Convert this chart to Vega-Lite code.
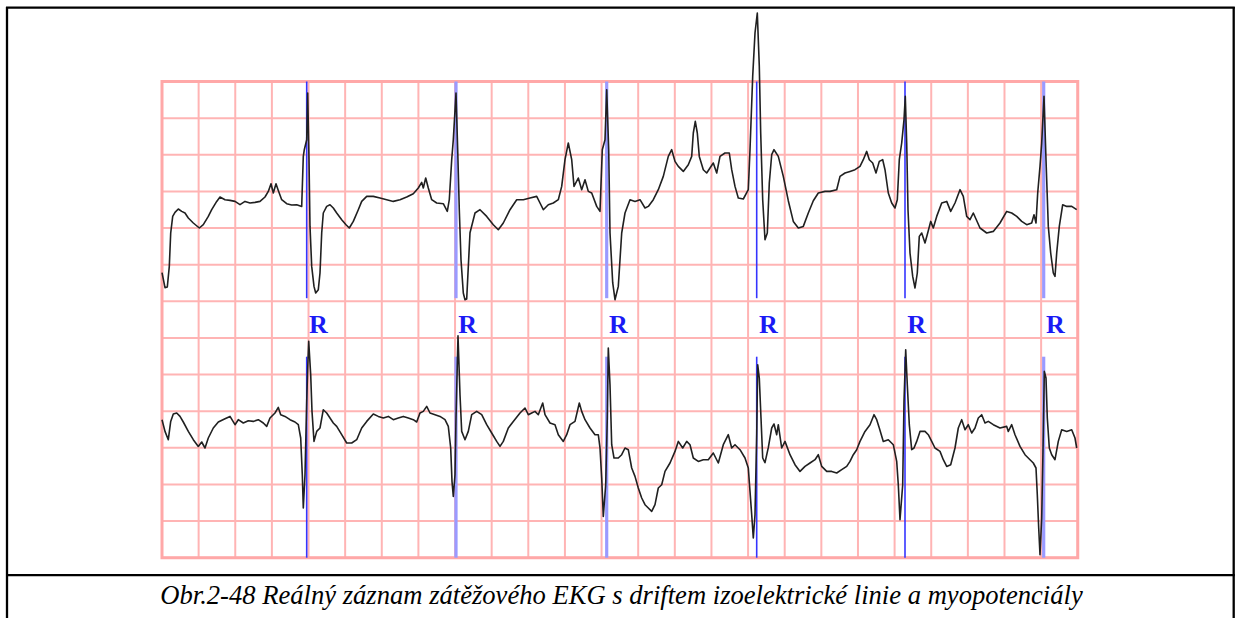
{
  "$schema": "https://vega.github.io/schema/vega-lite/v6.json",
  "width": 1235,
  "height": 618,
  "autosize": "none",
  "padding": 0,
  "background": "white",
  "config": {"view": {"stroke": null}},
  "datasets": {
    "vgrid": [{"n":0},{"n":36.63},{"n":73.26},{"n":109.89},{"n":146.52},{"n":183.15},{"n":219.78},{"n":256.41},{"n":293.04},{"n":329.67},{"n":366.3},{"n":402.93},{"n":439.56},{"n":476.19},{"n":512.82},{"n":549.45},{"n":586.08},{"n":622.71},{"n":659.34},{"n":695.97},{"n":732.6},{"n":769.23},{"n":805.86},{"n":842.49},{"n":879.12},{"n":915.75}],
    "hgrid": [{"a":0},{"a":36.63},{"a":73.26},{"a":109.89},{"a":146.52},{"a":183.15},{"a":219.78},{"a":256.41},{"a":293.04},{"a":329.67},{"a":366.3},{"a":402.93},{"a":439.56},{"a":476.19}],
    "beats": [{"beat":1,"n":144.7},{"beat":2,"n":294},{"beat":3,"n":444.7},{"beat":4,"n":594.7},{"beat":5,"n":743},{"beat":6,"n":881.7}],
    "top": [
      {"n":0,"a":285},{"n":3,"a":270},{"n":5.3,"a":270.7},{"n":7.3,"a":291.3},{"n":8.7,"a":324.7},{"n":10.7,"a":341.3},{"n":13,"a":345.3},{"n":16.3,"a":348.7},{"n":19.7,"a":346.3},{"n":23,"a":344.7},{"n":26.3,"a":339.7},{"n":31.3,"a":334.7},{"n":37.3,"a":329.7},{"n":41.3,"a":333},{"n":46.3,"a":341.3},{"n":49.7,"a":348},{"n":54.7,"a":356.3},{"n":58,"a":360.7},{"n":63,"a":358},{"n":68,"a":357.3},{"n":73,"a":356.3},{"n":78,"a":353},{"n":83,"a":356.3},{"n":88,"a":354.7},{"n":93,"a":355.3},{"n":98,"a":356.3},{"n":103,"a":360.7},{"n":106.3,"a":366.3},{"n":109,"a":374},{"n":111.3,"a":364.7},{"n":114,"a":374},{"n":116.3,"a":367.3},{"n":119.7,"a":358},{"n":124.7,"a":354},{"n":129.7,"a":352.7},{"n":134.7,"a":353},{"n":139.7,"a":351.3},{"n":141.3,"a":401.3},{"n":142.3,"a":408},{"n":144.7,"a":418},{"n":145.7,"a":464.7},{"n":147,"a":398},{"n":148,"a":331.3},{"n":149.7,"a":291.3},{"n":152,"a":271.3},{"n":153.7,"a":264.7},{"n":156.3,"a":268},{"n":158,"a":284.7},{"n":159.7,"a":324.7},{"n":161.3,"a":344.7},{"n":164.7,"a":351.3},{"n":168,"a":353},{"n":171.3,"a":349.7},{"n":174.7,"a":344.7},{"n":179.7,"a":338},{"n":184,"a":333},{"n":187.3,"a":329.7},{"n":191.3,"a":336.3},{"n":196.3,"a":348},{"n":199.7,"a":356.3},{"n":204.7,"a":361.3},{"n":211.3,"a":361.3},{"n":218,"a":359.7},{"n":224.7,"a":358},{"n":231.3,"a":356.3},{"n":238,"a":358},{"n":244.7,"a":360.7},{"n":251.3,"a":364},{"n":256.3,"a":369.7},{"n":259.7,"a":375.3},{"n":261.3,"a":369.7},{"n":263.7,"a":379.7},{"n":266.3,"a":369.7},{"n":269.7,"a":358},{"n":274.7,"a":354.7},{"n":281.3,"a":354},{"n":285.3,"a":346.3},{"n":287.3,"a":358},{"n":289.7,"a":398},{"n":291.3,"a":418},{"n":294,"a":464.7},{"n":295.7,"a":408},{"n":297.3,"a":348},{"n":299,"a":298},{"n":301.3,"a":264.7},{"n":303,"a":258},{"n":304.7,"a":258.7},{"n":308,"a":325},{"n":313,"a":344.7},{"n":318,"a":348},{"n":324.7,"a":341.3},{"n":331.3,"a":333},{"n":336.3,"a":328},{"n":341.3,"a":334.7},{"n":348,"a":348},{"n":354.7,"a":358},{"n":361.3,"a":358},{"n":368,"a":359.7},{"n":374.7,"a":361.3},{"n":378,"a":354.7},{"n":381.3,"a":348},{"n":386.3,"a":353},{"n":391.3,"a":354.7},{"n":396.3,"a":358},{"n":399.7,"a":371.3},{"n":403,"a":398},{"n":406.3,"a":414.7},{"n":409.7,"a":398},{"n":412,"a":371.3},{"n":416.3,"a":379.7},{"n":419.7,"a":368},{"n":423,"a":378},{"n":426.3,"a":366.3},{"n":429.7,"a":364.7},{"n":434.7,"a":351.3},{"n":438,"a":346.3},{"n":440.3,"a":408},{"n":443,"a":418},{"n":444.7,"a":468},{"n":446.7,"a":408},{"n":448,"a":325},{"n":450.7,"a":275},{"n":453,"a":258},{"n":456.3,"a":271.3},{"n":459.7,"a":324.7},{"n":463,"a":344.7},{"n":468,"a":358},{"n":473,"a":356.3},{"n":478,"a":358},{"n":483,"a":349.7},{"n":486.3,"a":351.3},{"n":491.3,"a":358},{"n":496.3,"a":368},{"n":501.3,"a":381.3},{"n":506.3,"a":401.3},{"n":509.7,"a":408},{"n":513,"a":396.3},{"n":516.3,"a":391.3},{"n":521.3,"a":386.3},{"n":526.3,"a":393},{"n":529.7,"a":401.3},{"n":531.3,"a":424.7},{"n":533.3,"a":436.3},{"n":535.3,"a":424.7},{"n":537.3,"a":401.3},{"n":541.3,"a":388},{"n":544.7,"a":384.7},{"n":548,"a":389.7},{"n":551.3,"a":394.7},{"n":554.7,"a":384.7},{"n":558,"a":401.3},{"n":563,"a":404.7},{"n":567.3,"a":404.7},{"n":569.7,"a":388},{"n":573,"a":371.3},{"n":576.3,"a":359.7},{"n":581.3,"a":358.7},{"n":586.3,"a":368},{"n":588,"a":408},{"n":590.7,"a":481.3},{"n":593,"a":524.7},{"n":595.3,"a":544.7},{"n":597.3,"a":491.3},{"n":598.7,"a":424.7},{"n":600.7,"a":358},{"n":603,"a":318},{"n":605.3,"a":324.7},{"n":607.3,"a":374.7},{"n":609.7,"a":403},{"n":612,"a":408},{"n":616.3,"a":401.3},{"n":621.3,"a":381.3},{"n":626.3,"a":357},{"n":631.3,"a":336.3},{"n":636.3,"a":329.7},{"n":641.3,"a":331.3},{"n":646.3,"a":344.7},{"n":651.3,"a":357},{"n":656.3,"a":364.7},{"n":663,"a":366.3},{"n":668,"a":366.3},{"n":674.7,"a":368},{"n":678,"a":381.3},{"n":683,"a":384.7},{"n":688,"a":386.3},{"n":693,"a":388},{"n":698,"a":391.3},{"n":701.3,"a":398},{"n":704.7,"a":406.3},{"n":707.3,"a":398},{"n":710.7,"a":394.7},{"n":714,"a":384.7},{"n":717.3,"a":396.3},{"n":720.7,"a":398},{"n":723,"a":388},{"n":726.3,"a":364.7},{"n":729.7,"a":354.7},{"n":733,"a":349.7},{"n":735.3,"a":358},{"n":737.3,"a":398},{"n":739.7,"a":414.7},{"n":742,"a":438},{"n":743.3,"a":461.3},{"n":744.7,"a":414.7},{"n":746,"a":348},{"n":748,"a":304.7},{"n":750.7,"a":281.3},{"n":753,"a":269.7},{"n":755.3,"a":284.7},{"n":757.3,"a":321.3},{"n":759.7,"a":324.7},{"n":763,"a":314.7},{"n":765.7,"a":324.7},{"n":768.7,"a":336.3},{"n":771.3,"a":329.7},{"n":774.7,"a":341.3},{"n":779.7,"a":354.7},{"n":784.7,"a":356.3},{"n":788.7,"a":346.3},{"n":793,"a":354.7},{"n":798,"a":368},{"n":801.3,"a":361.3},{"n":804.7,"a":341.3},{"n":808,"a":338},{"n":811.3,"a":344.7},{"n":818,"a":329.7},{"n":824.7,"a":324.7},{"n":831.3,"a":326.3},{"n":838,"a":334.7},{"n":844.7,"a":346.3},{"n":849.7,"a":344.7},{"n":854.7,"a":341.3},{"n":859.7,"a":336.3},{"n":864.7,"a":333},{"n":869.7,"a":334.7},{"n":872,"a":343},{"n":874,"a":334.7},{"n":875.7,"a":364.7},{"n":878,"a":391.3},{"n":879.7,"a":414.7},{"n":882,"a":461.3},{"n":884,"a":398},{"n":886.3,"a":331.3},{"n":888.7,"a":304.7},{"n":891.3,"a":284.7},{"n":893,"a":281.3},{"n":894.7,"a":304.7},{"n":897.3,"a":331.3},{"n":900.7,"a":353},{"n":904.7,"a":351.3},{"n":909.7,"a":351.3},{"n":914.7,"a":348}
    ],
    "bottom": [
      {"n":0,"a":138},{"n":3,"a":126.3},{"n":6.3,"a":118},{"n":8.7,"a":136.3},{"n":11.3,"a":143.7},{"n":14.7,"a":144.7},{"n":18,"a":141.3},{"n":21.3,"a":135.7},{"n":26.3,"a":126.3},{"n":31.3,"a":118},{"n":36.3,"a":111.3},{"n":39.7,"a":115.7},{"n":43,"a":109.7},{"n":46.3,"a":119.7},{"n":51.3,"a":129.7},{"n":56.3,"a":135.7},{"n":63,"a":139},{"n":68,"a":141.3},{"n":73,"a":133},{"n":76.3,"a":138},{"n":81.3,"a":134.7},{"n":86.3,"a":137},{"n":91.3,"a":136.3},{"n":96.3,"a":138},{"n":101.3,"a":134.7},{"n":104.7,"a":131.3},{"n":108,"a":139.7},{"n":113,"a":144.7},{"n":116.3,"a":150.3},{"n":118.7,"a":143},{"n":123,"a":141.3},{"n":128,"a":138},{"n":133,"a":135.7},{"n":136.3,"a":133},{"n":138.7,"a":119.7},{"n":140.3,"a":83},{"n":141.3,"a":49.7},{"n":143,"a":83},{"n":144.7,"a":156.3},{"n":145.7,"a":189.7},{"n":146.7,"a":216.3},{"n":148.7,"a":183},{"n":150,"a":146.3},{"n":152,"a":116.3},{"n":154.7,"a":126.3},{"n":158,"a":129.7},{"n":161.3,"a":148},{"n":164.7,"a":144.7},{"n":168,"a":139.7},{"n":171.3,"a":134.7},{"n":174.7,"a":131.3},{"n":179.7,"a":123},{"n":184.7,"a":114.7},{"n":189.7,"a":114.7},{"n":194.7,"a":118},{"n":199.7,"a":129.7},{"n":204.7,"a":136.3},{"n":211.3,"a":143.7},{"n":216.3,"a":141.3},{"n":221.3,"a":139.7},{"n":226.3,"a":141.3},{"n":231.3,"a":138},{"n":236.3,"a":139.7},{"n":241.3,"a":141.3},{"n":246.3,"a":139.7},{"n":251.3,"a":138},{"n":254.7,"a":135.7},{"n":258,"a":144.7},{"n":261.3,"a":146.3},{"n":264.7,"a":151.3},{"n":268,"a":144.7},{"n":273,"a":143},{"n":278,"a":141.3},{"n":283,"a":138},{"n":286.3,"a":131.3},{"n":288.7,"a":109.7},{"n":290,"a":76.3},{"n":291.3,"a":61.3},{"n":293,"a":83},{"n":294,"a":139.7},{"n":296,"a":222},{"n":298,"a":163},{"n":299.7,"a":126.3},{"n":303,"a":118},{"n":306.3,"a":126.3},{"n":309.7,"a":143},{"n":314.7,"a":146.3},{"n":319.7,"a":143},{"n":324.7,"a":133},{"n":329.7,"a":124.7},{"n":334.7,"a":116.3},{"n":338,"a":111.3},{"n":341.3,"a":116.3},{"n":346.3,"a":129.7},{"n":351.3,"a":136.3},{"n":358,"a":144.7},{"n":363,"a":149.7},{"n":366.3,"a":143},{"n":369.7,"a":144.7},{"n":373,"a":146.3},{"n":376.3,"a":143},{"n":380.7,"a":154.7},{"n":383,"a":143},{"n":388,"a":134.7},{"n":393,"a":133},{"n":396.3,"a":123},{"n":401.3,"a":116.3},{"n":404.7,"a":123},{"n":408,"a":133},{"n":413,"a":136.3},{"n":417.3,"a":154.7},{"n":419.7,"a":146.3},{"n":423,"a":138},{"n":428,"a":129.7},{"n":433,"a":123},{"n":436.3,"a":123},{"n":438,"a":109.7},{"n":439.7,"a":79.7},{"n":441.3,"a":41.3},{"n":443.7,"a":73},{"n":445.3,"a":139.7},{"n":446.3,"a":209.7},{"n":448,"a":173},{"n":449.7,"a":113},{"n":452,"a":99.7},{"n":456.3,"a":99.7},{"n":459.7,"a":103},{"n":463,"a":109.7},{"n":466.3,"a":108},{"n":469.7,"a":89.7},{"n":473,"a":81.3},{"n":476.3,"a":69.7},{"n":479.7,"a":59.7},{"n":483,"a":53},{"n":486.3,"a":49.7},{"n":489.7,"a":46.3},{"n":493,"a":53},{"n":496.3,"a":69.7},{"n":499.7,"a":73},{"n":503,"a":86.3},{"n":508,"a":94.7},{"n":513,"a":106.3},{"n":516.3,"a":116.3},{"n":520.7,"a":109.7},{"n":524.7,"a":116.3},{"n":528,"a":113},{"n":531.3,"a":99.7},{"n":536.3,"a":96.3},{"n":541.3,"a":98},{"n":546.3,"a":98},{"n":551.3,"a":104.7},{"n":556.3,"a":94.7},{"n":561.3,"a":113},{"n":566.3,"a":123},{"n":569.7,"a":109.7},{"n":573,"a":113},{"n":578,"a":108},{"n":583,"a":99.7},{"n":586.3,"a":89.7},{"n":588,"a":66.3},{"n":589.7,"a":43},{"n":591.3,"a":19.7},{"n":593,"a":43},{"n":594.7,"a":123},{"n":595.7,"a":193},{"n":597.3,"a":179.7},{"n":599,"a":139.7},{"n":600.7,"a":99.7},{"n":603,"a":95},{"n":606.3,"a":110},{"n":609.7,"a":129.7},{"n":612,"a":133.7},{"n":614.7,"a":123},{"n":616.3,"a":133},{"n":619.7,"a":109.7},{"n":623,"a":116.3},{"n":628,"a":103},{"n":633,"a":93},{"n":638,"a":86.3},{"n":643,"a":91.3},{"n":648,"a":94.7},{"n":653,"a":98},{"n":656.3,"a":103},{"n":659.7,"a":91.3},{"n":664.7,"a":86.3},{"n":669.7,"a":86.3},{"n":674.7,"a":84.7},{"n":679.7,"a":88},{"n":684.7,"a":91.3},{"n":688,"a":96.3},{"n":691.3,"a":103},{"n":694.7,"a":108},{"n":698,"a":116.3},{"n":703,"a":126.3},{"n":708,"a":133},{"n":712,"a":143},{"n":714.7,"a":138},{"n":717.3,"a":129.7},{"n":721.3,"a":116.3},{"n":726.3,"a":118},{"n":731.3,"a":113},{"n":734.7,"a":96.3},{"n":736.3,"a":73},{"n":738,"a":38},{"n":740.7,"a":73},{"n":742,"a":156.3},{"n":743.7,"a":208},{"n":745.3,"a":173},{"n":747.3,"a":133},{"n":749.7,"a":108},{"n":752,"a":109.7},{"n":754.7,"a":116.3},{"n":758,"a":126.3},{"n":763,"a":126.3},{"n":766.3,"a":123},{"n":769.7,"a":116.3},{"n":773,"a":109.7},{"n":778,"a":106.3},{"n":781.3,"a":98},{"n":784.7,"a":91.3},{"n":788.7,"a":93},{"n":793,"a":109.7},{"n":796.3,"a":129.7},{"n":799.7,"a":138},{"n":803,"a":128},{"n":806.3,"a":133},{"n":809.7,"a":124.7},{"n":813,"a":129.7},{"n":816.3,"a":139.7},{"n":819.7,"a":143},{"n":823,"a":134.7},{"n":826.3,"a":136.3},{"n":831.3,"a":133},{"n":838,"a":129.7},{"n":844.7,"a":131.3},{"n":846.3,"a":126.3},{"n":849.7,"a":133},{"n":853,"a":123},{"n":858,"a":111.3},{"n":863,"a":103},{"n":868,"a":98},{"n":871.3,"a":94.7},{"n":874,"a":89.7},{"n":875.3,"a":63},{"n":876.7,"a":29.7},{"n":878,"a":3},{"n":879.7,"a":39.7},{"n":881.3,"a":123},{"n":882.3,"a":186.3},{"n":884,"a":179.7},{"n":885.3,"a":139.7},{"n":887.3,"a":109.7},{"n":889.7,"a":103},{"n":893,"a":98},{"n":896.3,"a":116.3},{"n":899.7,"a":128},{"n":904.7,"a":126.3},{"n":909.7,"a":128},{"n":913,"a":119.7},{"n":914.7,"a":109.7}
    ]
  },
  "layer": [
    {
      "data": {"name": "vgrid"},
      "mark": {"type": "rule", "color": "#ffb4b4", "strokeWidth": 2},
      "encoding": {
        "x": {"field": "n", "type": "quantitative", "scale": {"domain": [-162, 1073], "nice": false, "zero": false}, "axis": null},
        "y": {"datum": 0, "type": "quantitative", "scale": {"domain": [-60.3, 557.7], "nice": false, "zero": false}, "axis": null},
        "y2": {"datum": 476.19}
      }
    },
    {
      "data": {"name": "hgrid"},
      "mark": {"type": "rule", "color": "#ffb4b4", "strokeWidth": 2},
      "encoding": {
        "y": {"field": "a", "type": "quantitative", "scale": {"domain": [-60.3, 557.7], "nice": false, "zero": false}, "axis": null},
        "x": {"datum": 0, "type": "quantitative", "scale": {"domain": [-162, 1073], "nice": false, "zero": false}, "axis": null},
        "x2": {"datum": 915.75}
      }
    },
    {
      "data": {"values": [{}]},
      "mark": {"type": "rect", "fill": null, "stroke": "#ffa8a8", "strokeWidth": 3},
      "encoding": {
        "x": {"datum": 0, "type": "quantitative", "scale": {"domain": [-162, 1073], "nice": false, "zero": false}, "axis": null},
        "x2": {"datum": 915.75},
        "y": {"datum": 0, "type": "quantitative", "scale": {"domain": [-60.3, 557.7], "nice": false, "zero": false}, "axis": null},
        "y2": {"datum": 476.19}
      }
    },
    {
      "data": {"name": "beats"},
      "transform": [{"filter": "datum.beat == 2 || datum.beat == 3 || datum.beat == 6"}],
      "mark": {"type": "rule", "color": "#9a9aff", "strokeWidth": 3.2},
      "encoding": {
        "x": {"field": "n", "type": "quantitative", "scale": {"domain": [-162, 1073], "nice": false, "zero": false}, "axis": null},
        "y": {"datum": 476.19, "type": "quantitative", "scale": {"domain": [-60.3, 557.7], "nice": false, "zero": false}, "axis": null},
        "y2": {"datum": 259.5}
      }
    },
    {
      "data": {"name": "beats"},
      "transform": [{"filter": "datum.beat == 2 || datum.beat == 3 || datum.beat == 6"}],
      "mark": {"type": "rule", "color": "#9a9aff", "strokeWidth": 3.2},
      "encoding": {
        "x": {"field": "n", "type": "quantitative", "scale": {"domain": [-162, 1073], "nice": false, "zero": false}, "axis": null},
        "y": {"datum": 201, "type": "quantitative", "scale": {"domain": [-60.3, 557.7], "nice": false, "zero": false}, "axis": null},
        "y2": {"datum": 0}
      }
    },
    {
      "data": {"name": "beats"},
      "transform": [{"filter": "datum.beat == 1 || datum.beat == 4 || datum.beat == 5"}],
      "mark": {"type": "rule", "color": "#3535ff", "strokeWidth": 1.6},
      "encoding": {
        "x": {"field": "n", "type": "quantitative", "scale": {"domain": [-162, 1073], "nice": false, "zero": false}, "axis": null},
        "y": {"datum": 476.19, "type": "quantitative", "scale": {"domain": [-60.3, 557.7], "nice": false, "zero": false}, "axis": null},
        "y2": {"datum": 259.5}
      }
    },
    {
      "data": {"name": "beats"},
      "transform": [{"filter": "datum.beat == 1 || datum.beat == 4 || datum.beat == 5"}],
      "mark": {"type": "rule", "color": "#3535ff", "strokeWidth": 1.6},
      "encoding": {
        "x": {"field": "n", "type": "quantitative", "scale": {"domain": [-162, 1073], "nice": false, "zero": false}, "axis": null},
        "y": {"datum": 201, "type": "quantitative", "scale": {"domain": [-60.3, 557.7], "nice": false, "zero": false}, "axis": null},
        "y2": {"datum": 0}
      }
    },
    {
      "data": {"name": "top"},
      "mark": {"type": "line", "color": "#202020", "strokeWidth": 1.6, "strokeJoin": "round", "interpolate": "linear"},
      "encoding": {
        "x": {"field": "n", "type": "quantitative", "scale": {"domain": [-162, 1073], "nice": false, "zero": false}, "axis": null},
        "y": {"field": "a", "type": "quantitative", "scale": {"domain": [-60.3, 557.7], "nice": false, "zero": false}, "axis": null}
      }
    },
    {
      "data": {"name": "bottom"},
      "mark": {"type": "line", "color": "#202020", "strokeWidth": 1.6, "strokeJoin": "round", "interpolate": "linear"},
      "encoding": {
        "x": {"field": "n", "type": "quantitative", "scale": {"domain": [-162, 1073], "nice": false, "zero": false}, "axis": null},
        "y": {"field": "a", "type": "quantitative", "scale": {"domain": [-60.3, 557.7], "nice": false, "zero": false}, "axis": null}
      }
    },
    {
      "data": {"name": "beats"},
      "mark": {"type": "text", "text": "R", "font": "Liberation Serif", "fontWeight": "bold", "fontSize": 26, "color": "#1a1af5", "align": "center", "baseline": "middle", "dx": 11.7},
      "encoding": {
        "x": {"field": "n", "type": "quantitative", "scale": {"domain": [-162, 1073], "nice": false, "zero": false}, "axis": null},
        "y": {"datum": 232.7, "type": "quantitative", "scale": {"domain": [-60.3, 557.7], "nice": false, "zero": false}, "axis": null}
      }
    },
    {
      "data": {"values": [{}]},
      "mark": {"type": "rule", "color": "black", "strokeWidth": 2.3},
      "encoding": {
        "x": {"datum": -155, "type": "quantitative", "scale": {"domain": [-162, 1073], "nice": false, "zero": false}, "axis": null},
        "y": {"datum": 550.6, "type": "quantitative", "scale": {"domain": [-60.3, 557.7], "nice": false, "zero": false}, "axis": null},
        "y2": {"datum": -60.3}
      }
    },
    {
      "data": {"values": [{}]},
      "mark": {"type": "rule", "color": "black", "strokeWidth": 2.3},
      "encoding": {
        "x": {"datum": 1071.7, "type": "quantitative", "scale": {"domain": [-162, 1073], "nice": false, "zero": false}, "axis": null},
        "y": {"datum": 550.6, "type": "quantitative", "scale": {"domain": [-60.3, 557.7], "nice": false, "zero": false}, "axis": null},
        "y2": {"datum": -60.3}
      }
    },
    {
      "data": {"values": [{}]},
      "mark": {"type": "rule", "color": "black", "strokeWidth": 2.3},
      "encoding": {
        "x": {"datum": -156, "type": "quantitative", "scale": {"domain": [-162, 1073], "nice": false, "zero": false}, "axis": null},
        "x2": {"datum": 1072.8},
        "y": {"datum": 550, "type": "quantitative", "scale": {"domain": [-60.3, 557.7], "nice": false, "zero": false}, "axis": null}
      }
    },
    {
      "data": {"values": [{}]},
      "mark": {"type": "rule", "color": "black", "strokeWidth": 2.3},
      "encoding": {
        "x": {"datum": -156, "type": "quantitative", "scale": {"domain": [-162, 1073], "nice": false, "zero": false}, "axis": null},
        "x2": {"datum": 1072.8},
        "y": {"datum": -17.5, "type": "quantitative", "scale": {"domain": [-60.3, 557.7], "nice": false, "zero": false}, "axis": null}
      }
    },
    {
      "data": {"values": [{"caption": "Obr.2-48 Reálný záznam zátěžového EKG s driftem izoelektrické linie a myopotenciály"}]},
      "mark": {"type": "text", "font": "Liberation Serif, Times New Roman, serif", "fontStyle": "italic", "fontSize": 26.6, "color": "black", "align": "center", "baseline": "alphabetic"},
      "encoding": {
        "text": {"field": "caption"},
        "x": {"datum": 459.5, "type": "quantitative", "scale": {"domain": [-162, 1073], "nice": false, "zero": false}, "axis": null},
        "y": {"datum": -46.3, "type": "quantitative", "scale": {"domain": [-60.3, 557.7], "nice": false, "zero": false}, "axis": null}
      }
    }
  ]
}
